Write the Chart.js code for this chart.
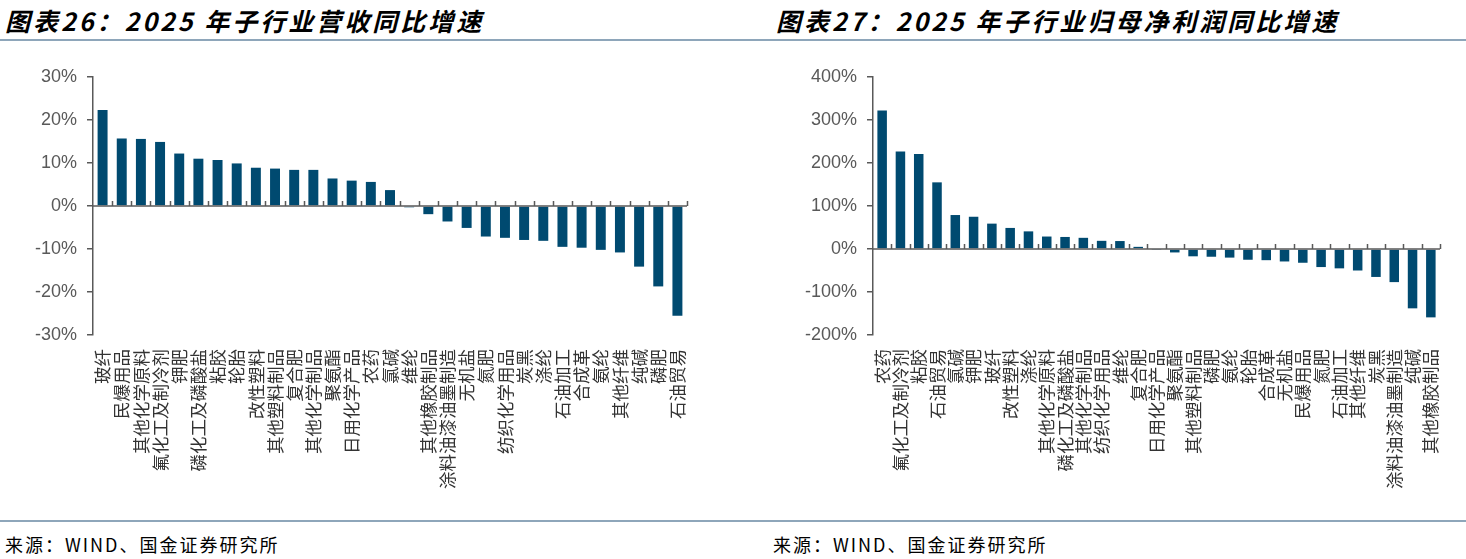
<!DOCTYPE html>
<html><head><meta charset="utf-8">
<script src="https://cdn.jsdelivr.net/npm/chart.js@4.4.1/dist/chart.umd.min.js"></script>
<style>
html,body{margin:0;padding:0;background:#fff;width:1466px;height:559px;overflow:hidden;position:relative;font-family:"Noto Sans CJK SC",sans-serif;}
.title{position:absolute;top:2px;font-size:25px;font-weight:bold;font-style:italic;color:#000;letter-spacing:3px;white-space:nowrap;}
.src{position:absolute;top:531px;font-size:18px;color:#000;letter-spacing:2px;white-space:nowrap;}
.hline{position:absolute;left:0;width:1466px;height:1.5px;background:#8ea6ba;}
canvas{position:absolute;}
</style></head><body>
<div class="title" style="left:5px">图表26：2025 年子行业营收同比增速</div>
<div class="title" style="left:776px">图表27：2025 年子行业归母净利润同比增速</div>
<div class="hline" style="top:39px"></div>
<div class="hline" style="top:520px"></div>
<div class="src" style="left:5px">来源：WIND、国金证券研究所</div>
<div class="src" style="left:773px">来源：WIND、国金证券研究所</div>
<canvas id="c1" width="733" height="470" style="left:0;top:45px;width:733px;height:470px"></canvas>
<canvas id="c2" width="726" height="470" style="left:740px;top:45px;width:726px;height:470px"></canvas>
<script>
const categories1 = ["玻纤","民爆用品","其他化学原料","氟化工及制冷剂","钾肥","磷化工及磷酸盐","粘胶","轮胎","改性塑料","其他塑料制品","复合肥","其他化学制品","聚氨酯","日用化学产品","农药","氯碱","维纶","其他橡胶制品","涂料油漆油墨制造","无机盐","氮肥","纺织化学用品","炭黑","涤纶","石油加工","合成革","氨纶","其他纤维","纯碱","磷肥","石油贸易"];
const values1 = [22.3,15.7,15.6,14.9,12.2,11.0,10.7,9.9,8.9,8.7,8.4,8.4,6.4,5.9,5.6,3.7,-0.3,-1.9,-3.6,-5.1,-7.1,-7.4,-7.9,-8.1,-9.5,-9.7,-10.2,-10.8,-14.1,-18.7,-25.5];
const categories2 = ["农药","氟化工及制冷剂","粘胶","石油贸易","氯碱","钾肥","玻纤","改性塑料","涤纶","其他化学原料","磷化工及磷酸盐","其他化学制品","纺织化学用品","维纶","复合肥","日用化学产品","聚氨酯","其他塑料制品","磷肥","氨纶","轮胎","合成革","无机盐","民爆用品","氮肥","石油加工","其他纤维","炭黑","涂料油漆油墨制造","纯碱","其他橡胶制品"];
const values2 = [322,227,221,155,79,75,59,49,41,29,28,26,19,18.5,5,-1,-8,-17,-18,-20,-25,-26,-29,-32,-42,-45,-50,-65,-77,-138,-159];
const yRange1 = {min:-30, max:30, step:10};
const yRange2 = {min:-200, max:400, step:100};

const AXIS = '#595959';
const BAR = '#004a70';

const zeroLine = {
  id:'zeroLine',
  afterDatasetsDraw(chart){
    const {ctx, chartArea, scales} = chart;
    const y0 = scales.y.getPixelForValue(0);
    ctx.save();
    ctx.strokeStyle = AXIS;
    ctx.lineWidth = 1.5;
    ctx.beginPath();
    ctx.moveTo(chartArea.left, y0);
    ctx.lineTo(chartArea.right, y0);
    const n = chart.data.labels.length;
    const w = (chartArea.right - chartArea.left) / n;
    for (let i = 1; i <= n; i++) {
      const x = Math.round(chartArea.left + i * w) + 0.5;
      ctx.moveTo(x, y0);
      ctx.lineTo(x, y0 - 5);
    }
    ctx.stroke();
    ctx.restore();
  }
};

function make(id, cats, vals, rng, yWidth, padRight) {
  new Chart(document.getElementById(id), {
    type:'bar',
    data:{
      labels: cats,
      datasets:[{data: vals, backgroundColor: BAR, borderWidth:0, barPercentage:0.52, categoryPercentage:1}]
    },
    options:{
      responsive:false, animation:false,
      layout:{padding:{top:32, right:padRight, left:0, bottom:0}},
      plugins:{legend:{display:false}, tooltip:{enabled:false}},
      scales:{
        x:{
          grid:{display:false, drawTicks:false},
          border:{display:false},
          ticks:{autoSkip:false, maxRotation:90, minRotation:90, padding:14, color:'#333',
                 font:{family:'"Noto Sans CJK SC"', size:17.5}},
          afterFit(s){ s.height = 180; }
        },
        y:{
          min:rng.min, max:rng.max,
          grid:{display:true, drawOnChartArea:false, drawTicks:true, tickLength:6, color:AXIS, lineWidth:1.5},
          border:{display:true, color:AXIS, width:1.5},
          ticks:{stepSize:rng.step, padding:10, color:AXIS, font:{family:'"Liberation Sans", Arial, sans-serif', size:18},
                 callback:v => v + '%'},
          afterFit(s){ s.width = yWidth; }
        }
      }
    },
    plugins:[zeroLine]
  });
}
make('c1', categories1, values1, yRange1, 93, 46);
make('c2', categories2, values2, yRange2, 133, 10);
</script>
</body></html>
